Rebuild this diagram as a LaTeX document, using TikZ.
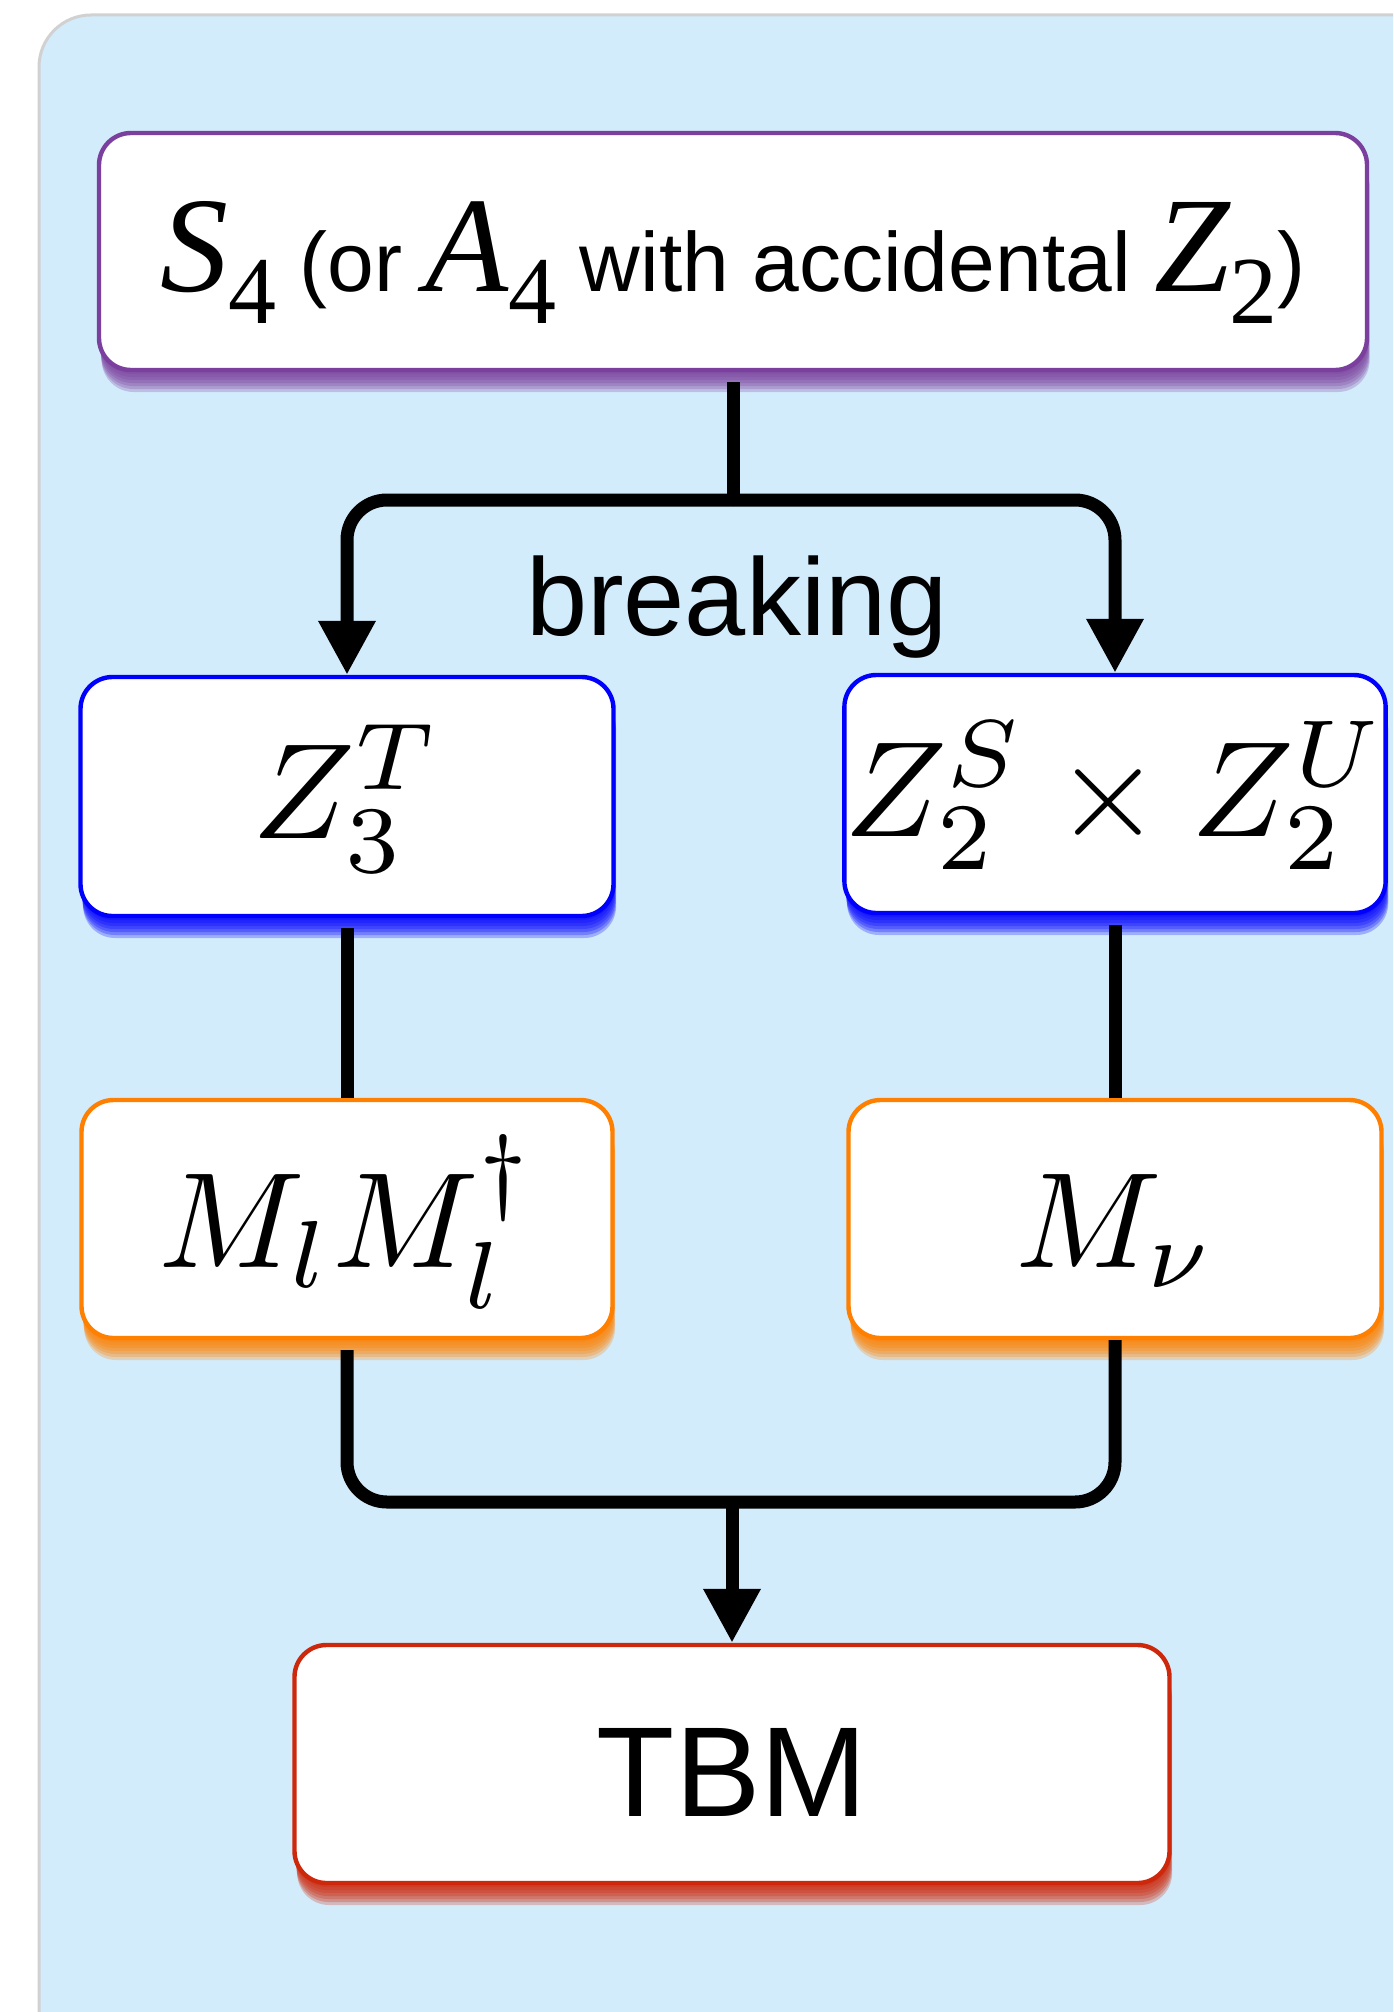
\documentclass[tikz,border=0pt]{standalone}
\usepackage{graphicx}
\usepackage{fontspec}
\setsansfont{Liberation Sans}
\newfontfamily\timesfont{Liberation Serif}
\usetikzlibrary{arrows.meta}
\definecolor{panelblue}{RGB}{211,236,252}
\definecolor{cpurple}{RGB}{123,63,157}
\definecolor{cblue}{RGB}{0,0,255}
\definecolor{corange}{RGB}{255,128,0}
\definecolor{cred}{RGB}{205,40,12}
\newcommand\tmath[2]{{\timesfont\itshape\fontsize{68}{70}\selectfont #1}\raisebox{-16pt}{\timesfont\fontsize{48}{50}\selectfont #2}}
\newcommand\bigmath[1]{\scalebox{6.8}{$#1$}}
\begin{document}
\begin{tikzpicture}[x=0.5pt,y=-0.5pt,
  sh/.style 2 args={preaction={fill=#1, fill opacity=0.26, transform canvas={yshift=-#2pt, xshift=0.12*#2pt}}},
  gbox/.style={draw=#1, line width=2.2pt, fill=white, rounded corners=16pt, inner sep=0pt,
    sh={#1}{11}, sh={#1}{9.5}, sh={#1}{8}, sh={#1}{6.5}, sh={#1}{5}, sh={#1}{3.5}, sh={#1}{2}},
  conn/.style={line width=6.5pt, black},
  arr/.style={conn, -{Triangle[width=27pt,length=27pt]}},
  leave/.style={shorten <=5pt}
]
\useasboundingbox (0,0) rectangle (1393,2012);
\clip (0,0) rectangle (1393,2012);
\fill[white] (0,0) rectangle (1393,2012);
\draw[draw=black!18, line width=1.5pt, fill=panelblue, rounded corners=26pt] (39,15) rectangle (1480,2100);

\node[gbox=cpurple, minimum width=634pt, minimum height=118.5pt, text height=52pt, text depth=12pt,
  font=\sffamily\fontsize{42}{50}\selectfont] (top) at (733,251.5)
  {\tmath{S}{4} (or \tmath{A}{4} with accidental \tmath{Z}{2})};

\node[gbox=cblue, minimum width=266.5pt, minimum height=119.5pt, text height=54pt, text depth=12pt] (z3) at (347,796.5) {\bigmath{Z_3^T}};
\node[gbox=cblue, minimum width=266.5pt, minimum height=119pt, text height=54pt, text depth=12pt] (z2) at (1115,794) {\bigmath{Z_2^S\times Z_2^U}};

\node[gbox=corange, minimum width=265.5pt, minimum height=119pt, text height=60pt, text depth=12pt] (ml) at (347,1219) {\bigmath{M_l M_l^\dagger}};
\node[gbox=corange, minimum width=266.5pt, minimum height=119pt, text height=60pt, text depth=12pt] (mnu) at (1115,1219) {\bigmath{M_\nu}};

\node[gbox=cred, minimum width=437.5pt, minimum height=119pt, text height=64pt, text depth=12pt,
  font=\sffamily\fontsize{64}{70}\selectfont] (tbm) at (732,1764) {TBM};

\node[anchor=base, font=\sffamily\fontsize{55}{60}\selectfont] (brk) at (737,635) {breaking};

\coordinate (split) at (733,500);
\coordinate (join) at (732,1502);

\draw[conn, leave] (top.south) -- (split);
\draw[arr, rounded corners=20pt] (split) -| (z3.north);
\draw[arr, rounded corners=20pt] (split) -| (z2.north);
\draw[conn, leave] (z3.south) -- (ml.north);
\draw[conn, leave] (z2.south) -- (mnu.north);
\draw[conn, leave, rounded corners=20pt] (ml.south) |- (join -| mnu.south) -- (mnu.south);
\draw[arr] (join) -- (tbm.north);
\end{tikzpicture}
\end{document}
